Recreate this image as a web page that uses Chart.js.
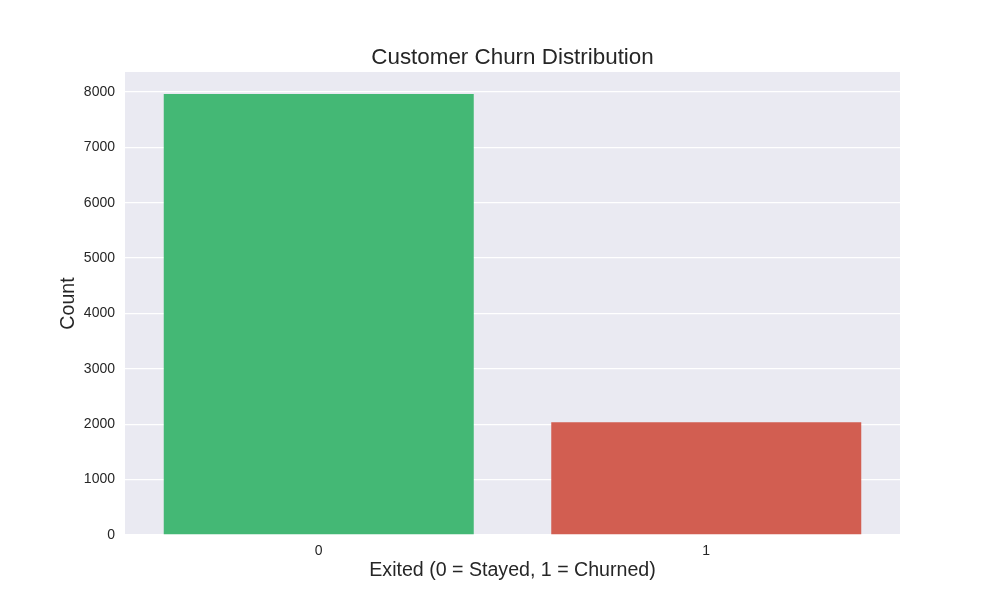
<!DOCTYPE html>
<html>
<head>
<meta charset="utf-8">
<script src="https://cdn.jsdelivr.net/npm/chart.js@4"></script>
<style>
html,body{margin:0;padding:0;background:#fff;}
#wrap{width:1000px;height:600px;}
</style>
</head>
<body>
<div id="wrap"><canvas id="c" width="1000" height="600"></canvas></div>
<script>
const categories = ["0", "1"];
const counts = [7963, 2037];
const barColors = ["#44b875", "#d25e51"];
const yTicks = [0, 1000, 2000, 3000, 4000, 5000, 6000, 7000, 8000];
const yMax = 8361;
const titleText = 'Customer Churn Distribution';
const xTitleText = 'Exited (0 = Stayed, 1 = Churned)';
const yTitleText = 'Count';

const bgPlugin = {
  id: 'bgPlugin',
  beforeDraw(chart) {
    const a = chart.chartArea, ctx = chart.ctx;
    ctx.save();
    ctx.fillStyle = '#fff';
    ctx.fillRect(0, 0, chart.width, chart.height);
    ctx.fillStyle = '#eaeaf2';
    ctx.fillRect(a.left, a.top, a.right - a.left, a.bottom - a.top);
    ctx.restore();
  },
  afterDraw(chart) {
    const a = chart.chartArea, ctx = chart.ctx;
    const cx = (a.left + a.right) / 2;
    ctx.save();
    ctx.fillStyle = '#262626';
    ctx.textAlign = 'center';
    ctx.textBaseline = 'middle';
    ctx.font = '22.4px "Liberation Sans"';
    ctx.fillText(titleText, cx, a.top - 14);
    ctx.font = '19.6px "Liberation Sans"';
    ctx.fillText(xTitleText, cx, a.bottom + 36);
    ctx.translate(a.left - 56, (a.top + a.bottom) / 2);
    ctx.rotate(-Math.PI / 2);
    ctx.fillText(yTitleText, 0, 0);
    ctx.restore();
  }
};

new Chart(document.getElementById('c'), {
  type: 'bar',
  data: {
    labels: categories,
    datasets: [{
      data: counts,
      backgroundColor: barColors,
      borderWidth: 0,
      barPercentage: 0.8,
      categoryPercentage: 1.0
    }]
  },
  options: {
    responsive: false,
    animation: false,
    devicePixelRatio: 1,
    layout: { padding: { left: 0, right: 100, top: 72, bottom: 0 } },
    plugins: {
      legend: { display: false },
      tooltip: { enabled: false },
      title: { display: false }
    },
    scales: {
      x: {
        grid: { display: false },
        border: { display: false },
        ticks: {
          color: '#262626',
          font: { family: 'Liberation Sans', size: 14 },
          padding: 0
        },
        afterFit(scale) { scale.height = 65; }
      },
      y: {
        min: 0,
        max: yMax,
        grid: { color: '#ffffff', lineWidth: 1.3, drawTicks: false },
        border: { display: false },
        afterBuildTicks(scale) { scale.ticks = yTicks.map(v => ({ value: v })); },
        ticks: {
          color: '#262626',
          font: { family: 'Liberation Sans', size: 14 },
          padding: 10,
          callback: v => String(v)
        },
        afterFit(scale) { scale.width = 125; }
      }
    }
  },
  plugins: [bgPlugin]
});
</script>
</body>
</html>
